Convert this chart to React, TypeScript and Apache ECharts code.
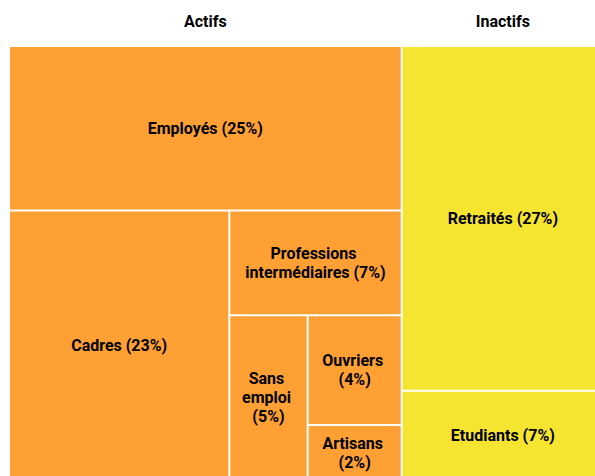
import React, { useEffect, useRef } from "react";
import * as echarts from "echarts";

const groups = ["Actifs", "Inactifs"];
const groupColors = ["#fea034", "#f5e531"];
const actifsNames = ["Employés", "Cadres", "Professions intermédiaires", "Sans emploi", "Ouvriers", "Artisans"];
const actifsValues = [25, 23, 7, 5, 4, 2];
const inactifsNames = ["Retraités", "Etudiants"];
const inactifsValues = [27, 7];

export default function App() {
  const ref = useRef<HTMLDivElement>(null);
  useEffect(() => {
    if (!ref.current) return;
    const chart = echarts.init(ref.current, null, { renderer: "svg" });
    const childLists = [
      actifsNames.map((n, i) => ({ name: n, value: actifsValues[i] })),
      inactifsNames.map((n, i) => ({ name: n, value: inactifsValues[i] })),
    ];
    const data = groups.map((g, gi) => ({
      name: g,
      value: childLists[gi].reduce((s, c) => s + c.value, 0),
      itemStyle: { color: groupColors[gi] },
      children: childLists[gi].map((c) => ({ ...c, itemStyle: { color: groupColors[gi] } })),
    }));
    chart.setOption({
      animation: false,
      series: [
        {
          type: "treemap",
          left: 10,
          top: -5,
          width: 593,
          height: 484,
          roam: false,
          nodeClick: false,
          squareRatio: 0.7,
          breadcrumb: { show: false },
          data,
          levels: [
            { itemStyle: { borderWidth: 0, gapWidth: 2, borderColor: "#ffffff" } },
            {
              itemStyle: { borderWidth: 0, gapWidth: 2, borderColor: "#ffffff" },
              upperLabel: {
                show: true,
                height: 52,
                position: "inside",
                formatter: "{b}",
                color: "#000000",
                fontFamily: "Roboto",
                fontWeight: "bold",
                fontSize: 16,
              },
            },
            {
              itemStyle: { borderWidth: 0, gapWidth: 0 },
              label: {
                show: true,
                position: "inside",
                formatter: "{b} ({c}%)",
                color: "#000000",
                fontFamily: "Roboto",
                fontWeight: "bold",
                fontSize: 16,
                lineHeight: 19,
                overflow: "break",
                align: "center",
              },
            },
          ],
          emphasis: { disabled: true },
        },
      ],
    });
    return () => chart.dispose();
  }, []);
  return <div ref={ref} style={{ width: 595, height: 476, position: "absolute", left: 0, top: 0 }} />;
}
